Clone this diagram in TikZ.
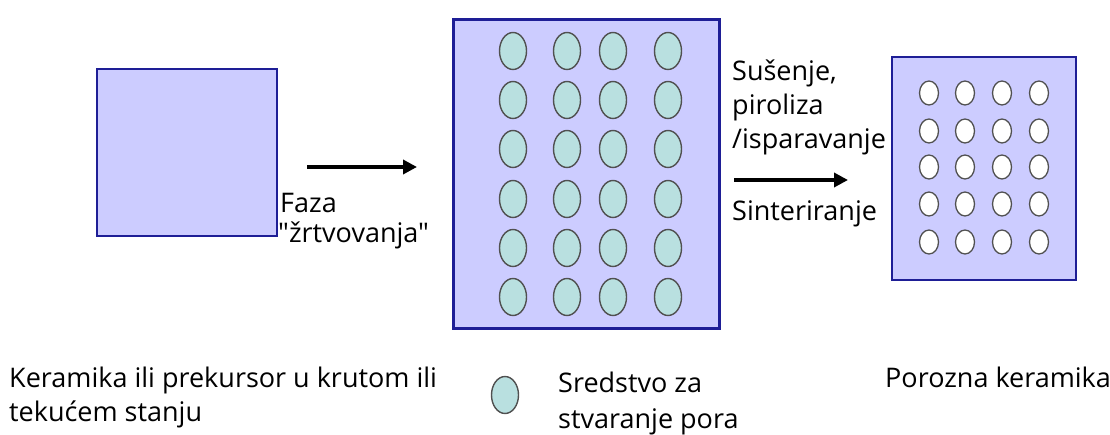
\documentclass[tikz,border=0pt]{standalone}
\usepackage{fontspec}
\setmainfont{Open Sans}
\newfontfamily\plainquote{Open Sans}
\usetikzlibrary{arrows.meta,shapes.geometric}
\definecolor{boxfill}{RGB}{204,204,255}
\definecolor{boxline}{RGB}{30,30,150}
\definecolor{agent}{RGB}{185,224,224}
\definecolor{ringline}{RGB}{80,80,80}
\tikzset{
  box/.style={fill=boxfill, draw=boxline},
  agentdot/.style={ellipse, fill=agent, draw=ringline, line width=1.4pt, minimum width=27pt, minimum height=37pt, inner sep=0pt},
  poredot/.style={ellipse, fill=white, draw=ringline, line width=1.3pt, minimum width=19pt, minimum height=24pt, inner sep=0pt},
  lbl/.style={anchor=base west, inner sep=0pt, font=\fontsize{27}{32}\selectfont},
  proc/.style={line width=4pt, -{Triangle[length=14pt,width=14pt]}},
}
\begin{document}
\begin{tikzpicture}[x=1pt,y=-1pt]
\useasboundingbox (0,0) rectangle (1110,435);
% left block
\draw[box, line width=2pt] (97,69) rectangle (277,236);
% middle block
\draw[box, line width=3pt] (453,20) rectangle (719,328);
\foreach \c [count=\i] in {513,567,613,668}{
  \foreach \r [count=\j] in {51,100,149,199,248,297}{
    \node[agentdot] (m\i\j) at (\c,\r) {};
  }
}
% right block
\draw[box, line width=2.5pt] (892,57) rectangle (1076,280);
\foreach \c [count=\i] in {929,965,1002,1039}{
  \foreach \r [count=\j] in {93,131,167,204,242}{
    \node[poredot] (p\i\j) at (\c,\r) {};
  }
}
% arrows
\coordinate (a1s) at (307,167);
\coordinate (a1e) at (417,167);
\draw[proc] (a1s) -- (a1e);
\coordinate (a2s) at (734,180);
\coordinate (a2e) at (848,180);
\draw[proc] (a2s) -- (a2e);
% labels
\node[lbl] (f1) at (280,213) {Faza};
\node[lbl] (f2) at (278,243) {\plainquote "žrtvovanja"};
\node[lbl] (s1) at (732,81) {Sušenje,};
\node[lbl] (s2) at (732,115) {piroliza};
\node[lbl] (s3) at (732,149) {/isparavanje};
\node[lbl] (s4) at (732,221) {Sinteriranje};
% bottom legend
\node[lbl] (k1) at (9,387) {Keramika ili prekursor u krutom ili};
\node[lbl] (k2) at (9,421) {tekućem stanju};
\node[agentdot] (leg) at (505,395) {};
\node[lbl] (r1) at (558,392) {Sredstvo za};
\node[lbl] (r2) at (558,428) {stvaranje pora};
\node[lbl] (pk) at (885,387) {Porozna keramika};
\end{tikzpicture}
\end{document}
